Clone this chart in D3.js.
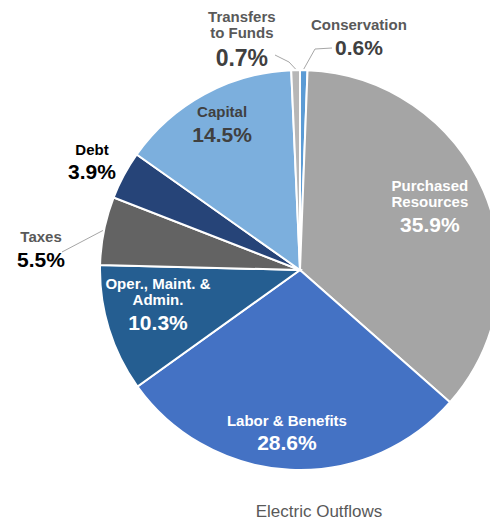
<!DOCTYPE html>
<html>
<head>
<meta charset="utf-8">
<script src="https://cdn.jsdelivr.net/npm/d3@7"></script>
<style>
  body { margin: 0; background: #fff; }
  text { font-family: "Liberation Sans", Arial, sans-serif; }
</style>
</head>
<body>
<div id="chart-area"></div>
<script>
// data, clockwise from 12 o'clock
const categories = ["Conservation", "Purchased Resources", "Labor & Benefits",
    "Oper., Maint. & Admin.", "Taxes", "Debt", "Capital", "Transfers to Funds"];
const values = [0.6, 35.9, 28.6, 10.3, 5.5, 3.9, 14.5, 0.7];
const nameLines = [["Conservation"], ["Purchased", "Resources"], ["Labor & Benefits"],
    ["Oper., Maint. &", "Admin."], ["Taxes"], ["Debt"], ["Capital"], ["Transfers", "to Funds"]];
const colors = ["#5B9BD5", "#A5A5A5", "#4472C4", "#255E91", "#636363", "#264478", "#7CAFDD", "#B7B7B7"];

const width = 490, height = 521;
const cx = 300, cy = 270, radius = 200;

// label placement: first baseline at [angle deg from top, distance]
const labelPlace = [
    { a: 13.8, r: 247, name: "#595959", pct: "#404040", size: 21, gap: 25 },
    { a: 58.7, r: 152, name: "#fff", pct: "#fff", size: 21, gap: 25 },
    { a: 184.8, r: 156.5, name: "#fff", pct: "#fff", size: 21, gap: 24 },
    { a: 262.4, r: 143.3, name: "#fff", pct: "#fff", size: 21, gap: 25 },
    { a: 276.2, r: 260.5, name: "#595959", pct: "#000", size: 21, gap: 25 },
    { a: 298.95, r: 237.7, name: "#000", pct: "#000", size: 21, gap: 24 },
    { a: 333, r: 171.7, name: "#404040", pct: "#404040", size: 21, gap: 25 },
    { a: 346.8, r: 254.7, name: "#595959", pct: "#404040", size: 23, gap: 28 }
];

const svg = d3.select("#chart-area").append("svg")
    .attr("width", width)
    .attr("height", height);

const g = svg.append("g").attr("transform", `translate(${cx}, ${cy})`);

const pie = d3.pie().sort(null).value(d => d)(values);
const arc = d3.arc().innerRadius(0).outerRadius(radius);

g.selectAll("path.slice")
    .data(pie)
    .enter().append("path")
    .attr("class", "slice")
    .attr("d", arc)
    .attr("fill", (d, i) => colors[i])
    .attr("stroke", "#fff")
    .attr("stroke-width", 2);

const polar = (deg, r) => {
    const t = deg * Math.PI / 180;
    return [Math.sin(t) * r, -Math.cos(t) * r];
};

// leader lines for small slices (slice index -> points towards the label)
const leaderEnds = {
    0: [[15, -221], [32, -222]],
    4: [[-238, -18]],
    7: [[-11, -208], [-25, -215]]
};
Object.keys(leaderEnds).forEach(k => {
    const d = pie[+k];
    const mid = (d.startAngle + d.endAngle) / 2 * 180 / Math.PI;
    const pts = [polar(mid, radius + 1)].concat(leaderEnds[k]);
    g.append("path")
        .attr("d", d3.line()(pts))
        .attr("fill", "none")
        .attr("stroke", "#A6A6A6")
        .attr("stroke-width", 1);
});

pie.forEach((d, i) => {
    const lp = labelPlace[i];
    const [x, y] = polar(lp.a, lp.r);
    const t = g.append("text").attr("text-anchor", "middle").attr("font-weight", "bold");
    let yy = y;
    nameLines[i].forEach((s, j) => {
        if (j > 0) yy += 16;
        t.append("tspan").attr("x", x).attr("y", yy)
            .attr("font-size", "15px").attr("fill", lp.name).text(s);
    });
    t.append("tspan").attr("x", x).attr("y", yy + lp.gap)
        .attr("font-size", lp.size + "px").attr("fill", lp.pct)
        .text(d3.format(".1f")(values[i]) + "%");
});

svg.append("text")
    .attr("x", 319)
    .attr("y", 517)
    .attr("text-anchor", "middle")
    .attr("font-size", "17px")
    .attr("fill", "#595959")
    .text("Electric Outflows");
</script>
</body>
</html>
